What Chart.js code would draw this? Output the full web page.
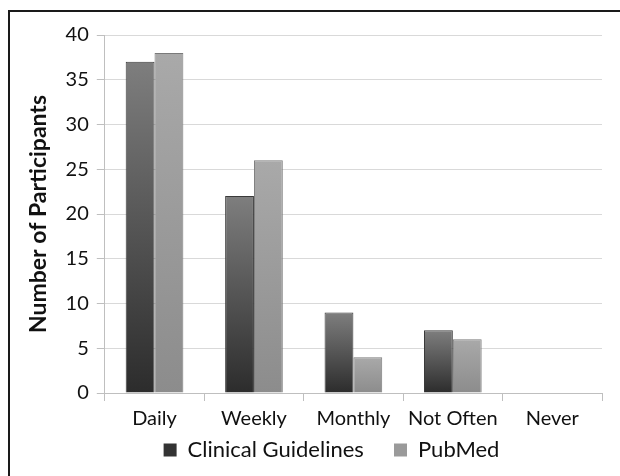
<!DOCTYPE html>
<html>
<head>
<meta charset="utf-8">
<script src="https://cdn.jsdelivr.net/npm/chart.js@4.4.0/dist/chart.umd.min.js"></script>
<style>
	html, body { margin: 0; padding: 0; background: #fff; }
	#wrap { position: relative; width: 620px; height: 476px; overflow: hidden; }
	#frame { position: absolute; left: 8px; top: 10px; width: 700px; height: 600px; border: 2px solid #1a1a1a; box-sizing: border-box; }
	#chart { position: absolute; left: 0; top: 0; }
</style>
</head>
<body>
<div id="wrap">
	<div id="frame"></div>
	<canvas id="chart" width="620" height="476"></canvas>
</div>
<script>

// Categories and series values
const categories = ["Daily", "Weekly", "Monthly", "Not Often", "Never"];
const clinicalGuidelines = [37, 22, 9, 7, 0];
const pubMed = [38, 26, 4, 6, 0];
const yTicks = [0, 5, 10, 15, 20, 25, 30, 35, 40];

const FONT = "Lato, 'Open Sans', sans-serif";

// Vertical gradient per bar, dark at the base and lighter at the top
function barGradient(bottomColor, topColor){
	return function(ctx){
		const chart = ctx.chart;
		if(!chart.chartArea || !chart.scales.y) return bottomColor;
		const y = chart.scales.y;
		const top = y.getPixelForValue(ctx.raw);
		const bot = y.getPixelForValue(0);
		if(!isFinite(top) || top === bot) return bottomColor;
		const g = chart.ctx.createLinearGradient(0, bot, 0, top);
		g.addColorStop(0, bottomColor);
		g.addColorStop(1, topColor);
		return g;
	}
}

// Nudge the legend a little to the right, the original sits off centre
const legendShift = {
	id: "legendShift",
	afterLayout(chart){
		if(chart.legend){
			chart.legend.left += 20;
			chart.legend.right += 20;
		}
	}
};

new Chart(document.getElementById("chart"), {
	type: "bar",
	plugins: [legendShift],
	data: {
		labels: categories,
		datasets: [
			{
				label: "Clinical Guidelines",
				data: clinicalGuidelines,
				backgroundColor: barGradient("#2c2c2c", "#7e7e7e"),
				borderColor: "#3a3a3a",
				borderWidth: 1,
				categoryPercentage: 0.58,
				barPercentage: 1.0
			},
			{
				label: "PubMed",
				data: pubMed,
				backgroundColor: barGradient("#8c8c8c", "#a9a9a9"),
				borderColor: "#7a7a7a",
				borderWidth: 1,
				categoryPercentage: 0.58,
				barPercentage: 1.0
			}
		]
	},
	options: {
		responsive: false,
		animation: false,
		devicePixelRatio: 1,
		layout: { padding: { left: 21, right: 18, top: 35, bottom: 5 } },
		plugins: {
			tooltip: { enabled: false },
			legend: {
				position: "bottom",
				labels: {
					color: "#111",
					font: { family: FONT, size: 22 },
					boxWidth: 13,
					boxHeight: 13,
					padding: 2,
					generateLabels: function(chart){
						const fills = ["#333333", "#9a9a9a"];
						const n = chart.data.datasets.length;
						return chart.data.datasets.map((ds, i) => ({
							// trailing spaces widen the gap between the two legend entries
							text: i < n - 1 ? ds.label + "     " : ds.label,
							fillStyle: fills[i],
							strokeStyle: fills[i],
							lineWidth: 0,
							datasetIndex: i,
							fontColor: "#111"
						}));
					}
				}
			}
		},
		scales: {
			x: {
				offset: true,
				grid: { offset: true, drawOnChartArea: false, drawTicks: true, tickLength: 8, color: "#bfbfbf" },
				border: { color: "#bfbfbf" },
				ticks: { color: "#111", font: { family: FONT, size: 20 }, padding: 6, maxRotation: 0 }
			},
			y: {
				min: 0,
				max: 40,
				afterBuildTicks: function(axis){ axis.ticks = yTicks.map(v => ({ value: v })); },
				grid: { color: "#d9d9d9", tickColor: "#bfbfbf", tickLength: 8 },
				border: { color: "#bfbfbf" },
				ticks: { color: "#111", font: { family: FONT, size: 20 }, padding: 8 },
				title: {
					display: true,
					text: "Number of Participants",
					color: "#111",
					font: { family: FONT, size: 23, weight: "bold" },
					padding: { top: 4, bottom: 5 }
				}
			}
		}
	}
});
</script>
</body>
</html>
